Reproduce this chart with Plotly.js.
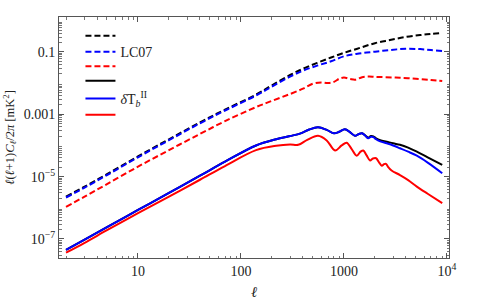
<!DOCTYPE html>
<html><head><meta charset="utf-8">
<script src="https://cdn.plot.ly/plotly-3.0.1.min.js"></script>
<style>html,body{margin:0;padding:0;background:#fff}#chart{width:485px;height:300px}</style>
</head><body><div id="chart"></div>
<script>
// ---- data ----
const ellDashed = [2,3,5,10,20,40,70,140,200,300,400,550,750,1000,1400,2000,2800,4000,5500,7000,9000];
const blackDashed = [2.29e-6,4.68e-6,1.20e-5,4.47e-5,1.58e-4,5.50e-4,1.41e-3,4.27e-3,8.51e-3,1.82e-2,2.88e-2,4.47e-2,6.61e-2,9.33e-2,0.132,0.191,0.240,0.302,0.347,0.380,0.407];
const blueDashed = [2.14e-6,4.37e-6,1.12e-5,4.17e-5,1.48e-4,5.13e-4,1.32e-3,3.98e-3,7.76e-3,1.62e-2,2.51e-2,3.63e-2,5.01e-2,7.24e-2,8.91e-2,0.102,0.115,0.126,0.123,0.115,0.107];

const ellRedDashed = [2,3,5,10,20,40,70,140,200,300,400,500,600,700,800,900,1000,1150,1300,1500,1750,2000,2500,3500,5000,7000,9000];
const redDashed = [1.07e-6,2.24e-6,5.75e-6,2.09e-5,7.08e-5,2.34e-4,6.03e-4,1.70e-3,2.69e-3,4.47e-3,6.61e-3,9.55e-3,1.05e-2,1.00e-2,1.10e-2,1.38e-2,1.51e-2,1.35e-2,1.29e-2,1.55e-2,1.62e-2,1.58e-2,1.55e-2,1.48e-2,1.38e-2,1.26e-2,1.17e-2];

const ellSolid = [2,3,5,10,20,40,70,140,220,300,380,460,560,680,800,900,1020,1150,1280,1400,1500,1620,1720,1830,1930,2050,2250,2600,3000,3500,4200,5100,6500,9000];
const blueSolid = [4.47e-8,9.33e-8,2.40e-7,8.51e-7,3.02e-6,1.07e-5,3.02e-5,1.00e-4,1.58e-4,2.00e-4,2.45e-4,3.24e-4,3.80e-4,3.16e-4,2.45e-4,2.75e-4,3.31e-4,2.63e-4,2.04e-4,2.34e-4,2.45e-4,2.00e-4,1.70e-4,1.91e-4,1.86e-4,1.58e-4,1.35e-4,1.17e-4,1.00e-4,8.13e-5,6.31e-5,4.68e-5,2.82e-5,1.29e-5];
const blackSolid = [4.47e-8,9.33e-8,2.40e-7,8.51e-7,3.02e-6,1.07e-5,3.02e-5,1.00e-4,1.58e-4,2.00e-4,2.45e-4,3.24e-4,3.80e-4,3.16e-4,2.45e-4,2.75e-4,3.31e-4,2.63e-4,2.04e-4,2.34e-4,2.45e-4,2.04e-4,1.78e-4,2.00e-4,1.95e-4,1.70e-4,1.48e-4,1.32e-4,1.17e-4,1.05e-4,8.51e-5,6.31e-5,4.17e-5,2.40e-5];

const ellRedSolid = [2,3,5,10,20,40,70,140,220,300,360,440,560,680,820,950,1060,1180,1330,1450,1540,1660,1790,1910,2050,2200,2330,2450,2560,2700,2900,3500,4200,5100,6500,9000];
const redSolid = [3.63e-8,7.41e-8,1.91e-7,6.76e-7,2.29e-6,7.94e-6,2.19e-5,7.08e-5,9.77e-5,1.07e-4,1.05e-4,1.51e-4,2.04e-4,1.45e-4,6.92e-5,1.00e-4,1.23e-4,7.94e-5,4.68e-5,6.31e-5,6.92e-5,4.79e-5,3.31e-5,3.80e-5,3.89e-5,2.82e-5,2.24e-5,2.51e-5,2.57e-5,2.00e-5,1.58e-5,1.12e-5,7.76e-6,4.79e-6,2.82e-6,1.41e-6];

const seriesNames = ['', 'LC07', '', '', '<i>δ</i>T<sub><i>b</i></sub><sup>II</sup>', ''];

const xTickVals = [10,100,1000,10000];
const xTickText = ['10','100','1000','10<sup>4</sup>'];
const yTickVals = [1e-7,1e-5,1e-3,1e-1];
const yTickText = ['10<sup>−7</sup>','10<sup>−5</sup>','0.001','0.1'];
const yMidTickVals = [1e-6,1e-4,1e-2,1];
const mantissas = [2,3,4,5,6,7,8,9];
const xDecades = [1,10,100,1000];
const yDecades = [1e-8,1e-7,1e-6,1e-5,1e-4,1e-3,1e-2,1e-1];

// ---- build ----
const xMinor = [], yMinor = [];
xDecades.forEach(d => mantissas.forEach(m => xMinor.push(m*d)));
yDecades.forEach(d => mantissas.forEach(m => yMinor.push(m*d)));

const serif = 'Liberation Serif, Times New Roman, serif';
const DASH = '6px,3px';
function tr(x, y, color, dash, i) {
  return {x: x, y: y, type: 'scatter', mode: 'lines', name: seriesNames[i],
    line: {color: color, width: 2, dash: dash, shape: 'spline', smoothing: 1},
    legend: i === 0 ? 'legend' : 'legend' + (i + 1), hoverinfo: 'skip'};
}
const data = [
  tr(ellDashed, blackDashed, '#000000', DASH, 0),
  tr(ellDashed, blueDashed, '#0000ff', DASH, 1),
  tr(ellRedDashed, redDashed, '#ff0000', DASH, 2),
  tr(ellSolid, blackSolid, '#000000', 'solid', 3),
  tr(ellSolid, blueSolid, '#0000ff', 'solid', 4),
  tr(ellRedSolid, redSolid, '#ff0000', 'solid', 5)
];

const yRange = [-7.61, 0.12];
const legendY = [0.921, 0.854, 0.794, 0.734, 0.660, 0.593];
const layout = {
  width: 485, height: 300,
  margin: {l: 59, r: 36, t: 17, b: 42},
  paper_bgcolor: '#fff', plot_bgcolor: '#fff',
  font: {family: serif, size: 14, color: '#222'},
  showlegend: true,
  xaxis: {
    type: 'log', range: [0.233, 4.02],
    tickmode: 'array', tickvals: xTickVals, ticktext: xTickText,
    ticks: 'inside', ticklen: 5, tickcolor: '#555', tickwidth: 1,
    minor: {tickmode: 'array', tickvals: xMinor, ticks: 'inside', ticklen: 2.5, tickcolor: '#777', showgrid: false},
    showline: true, linecolor: '#555', linewidth: 1, mirror: 'allticks',
    showgrid: false, zeroline: false,
    tickfont: {family: serif, size: 14, color: '#222'},
    title: {text: '<i>ℓ</i>', font: {family: serif, size: 15, color: '#222'}, standoff: 8}
  },
  yaxis: {
    type: 'log', range: yRange,
    tickmode: 'array', tickvals: yTickVals, ticktext: yTickText,
    ticks: 'inside', ticklen: 5, tickcolor: '#555', tickwidth: 1,
    minor: {tickmode: 'array', tickvals: yMinor, ticks: 'inside', ticklen: 2.5, tickcolor: '#777', showgrid: false},
    showline: true, linecolor: '#555', linewidth: 1, mirror: 'allticks',
    showgrid: false, zeroline: false,
    tickfont: {family: serif, size: 14, color: '#222'},
    title: {text: '<i>ℓ</i>(<i>ℓ</i>+1)<i>C<sub>ℓ</sub></i>/2<i>π</i> [mK<sup>2</sup>]', font: {family: serif, size: 12.5, color: '#222'}, standoff: 6}
  },
  yaxis2: {
    type: 'log', range: yRange, overlaying: 'y', anchor: 'x', side: 'left',
    tickmode: 'array', tickvals: yMidTickVals, showticklabels: false,
    ticks: 'inside', ticklen: 4, tickcolor: '#555', tickwidth: 1,
    showline: true, linecolor: '#555', linewidth: 1, mirror: 'ticks',
    showgrid: false, zeroline: false
  }
};
legendY.forEach((yy, i) => {
  layout[i === 0 ? 'legend' : 'legend' + (i + 1)] = {
    x: 0.055, y: yy, xanchor: 'left', yanchor: 'middle',
    bgcolor: 'rgba(0,0,0,0)', borderwidth: 0,
    font: {family: serif, size: 14, color: '#222'}
  };
});
Plotly.newPlot('chart', data, layout, {displayModeBar: false, staticPlot: true});
</script>
</body></html>
